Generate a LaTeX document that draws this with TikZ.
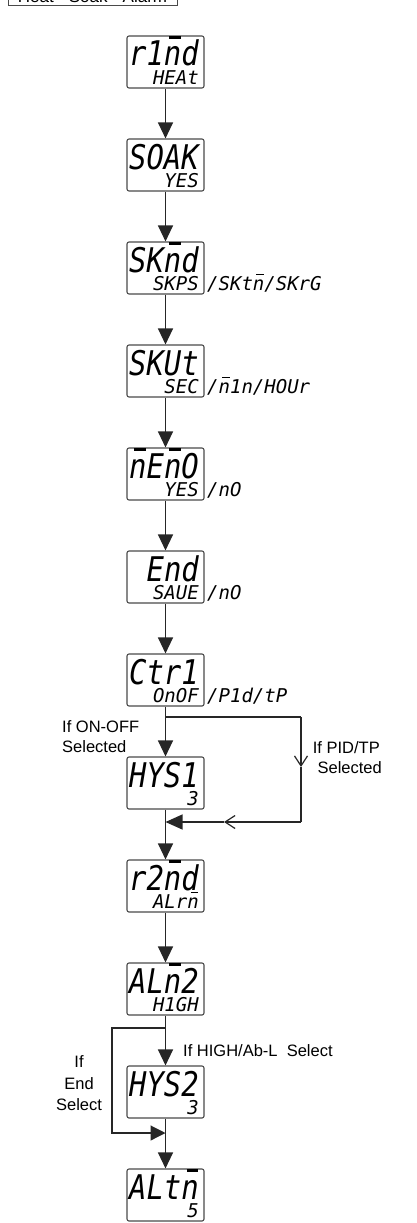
\documentclass[tikz,border=0pt]{standalone}
\usepackage{fontspec}
\setmainfont{Liberation Sans}
\newfontfamily\lcdfont{DejaVu Sans Mono}
\usetikzlibrary{arrows.meta}
\definecolor{boxgray}{HTML}{4A4A4A}
\definecolor{linec}{HTML}{262626}
\newcommand\nb{\ooalign{n\cr\hidewidth\kern0.16em\raisebox{0.80em}{\rule{0.40em}{0.07em}}\hidewidth\cr}}
\newcommand\lcdbig[1]{\scalebox{0.85}[1]{\lcdfont\itshape\fontsize{34}{34}\selectfont #1}}
\newcommand\lcdsmall[1]{{\lcdfont\itshape\fontsize{19}{19}\selectfont #1}}
\newcommand\lcdbox[4]{%
  \node[lcd] (#1) at (165.5,#2+26) {};
  \node[lcdtxt] (#1m) at (199,#2+30) {\lcdbig{#3}};
  \node[lcdtxt] (#1s) at (199,#2+48.5) {\lcdsmall{#4}};
}
\tikzset{
  lcd/.style={draw=boxgray, line width=1.1pt, rounded corners=2pt, minimum width=77pt, minimum height=52pt, inner sep=0pt},
  lcdtxt/.style={anchor=base east, inner sep=0pt},
  sidetxt/.style={anchor=base west, inner sep=0pt},
  ln/.style={line width=1.2pt, draw=linec},
  arr/.style={ln, -{Triangle[length=16pt,width=15pt]}},
  barb/.style={ln, -{Straight Barb[length=10pt,width=13pt]}},
  lbl/.style={inner sep=0pt, font=\fontsize{16.5}{20}\selectfont},
}
\begin{document}
\begin{tikzpicture}[x=1pt,y=-1pt]
\useasboundingbox (0,0) rectangle (417,1223);
\clip (0,0) rectangle (417,1223);
% title
\node[draw=boxgray, line width=1pt, inner xsep=0pt, inner ysep=2pt, minimum width=169pt, anchor=base, font=\fontsize{17}{17}\selectfont] (title) at (92.5,3) {Heat - Soak - Alarm};
% boxes
\lcdbox{rmd}{36}{r1\nb d}{HEAt}
\lcdbox{soak}{139}{SOAK}{YES}
\lcdbox{skmd}{242}{SK\nb d}{SKPS}
\lcdbox{skut}{345}{SKUt}{SEC}
\lcdbox{memo}{448}{\nb E\nb O}{YES}
\lcdbox{endb}{551}{End}{SAUE}
\lcdbox{ctr}{654}{Ctr1}{OnOF}
\lcdbox{hysa}{757}{HYS1}{3}
\lcdbox{rtmd}{860}{r2\nb d}{ALr\nb}
\lcdbox{alm}{963}{AL\nb 2}{H1GH}
\lcdbox{hysb}{1066}{HYS2}{3}
\lcdbox{altm}{1169}{ALt\nb}{5}
% side options
\node[sidetxt] (skmdx) at (207,242+48.5) {\lcdsmall{/SKt\nb/SKrG}};
\node[sidetxt] (skutx) at (207,345+48.5) {\lcdsmall{/\nb 1n/HOUr}};
\node[sidetxt] (memox) at (207,448+48.5) {\lcdsmall{/nO}};
\node[sidetxt] (endx) at (207,551+48.5) {\lcdsmall{/nO}};
\node[sidetxt] (ctrx) at (207,654+48.5) {\lcdsmall{/P1d/tP}};
% main arrows
\draw[arr] (rmd.south) -- (soak.north);
\draw[arr] (soak.south) -- (skmd.north);
\draw[arr] (skmd.south) -- (skut.north);
\draw[arr] (skut.south) -- (memo.north);
\draw[arr] (memo.south) -- (endb.north);
\draw[arr] (endb.south) -- (ctr.north);
\draw[arr] (ctr.south) -- (hysa.north);
\draw[arr] (hysa.south) -- (rtmd.north);
\draw[arr] (rtmd.south) -- (alm.north);
\draw[arr] (alm.south) -- (hysb.north);
\draw[arr] (hysb.south) -- (altm.north);
% branch PID/TP
\coordinate (bas) at (165.5,717);
\coordinate (bar) at (301,717);
\coordinate (bav) at (301,767);
\coordinate (bab) at (301,822);
\coordinate (bah) at (224,822);
\coordinate (bae) at (165.5,822);
\draw[ln] (bas) -- (bar);
\draw[barb] (bar) -- (bav);
\draw[ln] (bav) -- (bab);
\draw[barb] (bab) -- (bah);
\draw[ln, -{Triangle[length=17pt,width=15pt]}] (bah) -- (bae);
% branch End
\coordinate (bbs) at (165.5,1028);
\coordinate (bbl) at (112,1028);
\coordinate (bbb) at (112,1133);
\coordinate (bbe) at (165.5,1133);
\draw[ln, -{Triangle[length=15pt,width=15pt]}] (bbs) -- (bbl) -- (bbb) -- (bbe);
% labels
\node[lbl, anchor=base west] (l1a) at (62,732) {If ON-OFF};
\node[lbl, anchor=base west] (l1b) at (62,752) {Selected};
\node[lbl, anchor=base east] (l2a) at (380,753) {If PID/TP};
\node[lbl, anchor=base east] (l2b) at (382,773) {Selected};
\node[lbl, anchor=base west] (l3) at (183,1056) {If HIGH/Ab-L\ \ Select};
\node[lbl, anchor=base] (l4a) at (79,1067) {If};
\node[lbl, anchor=base] (l4b) at (79,1089) {End};
\node[lbl, anchor=base] (l4c) at (79,1110) {Select};
\end{tikzpicture}
\end{document}
